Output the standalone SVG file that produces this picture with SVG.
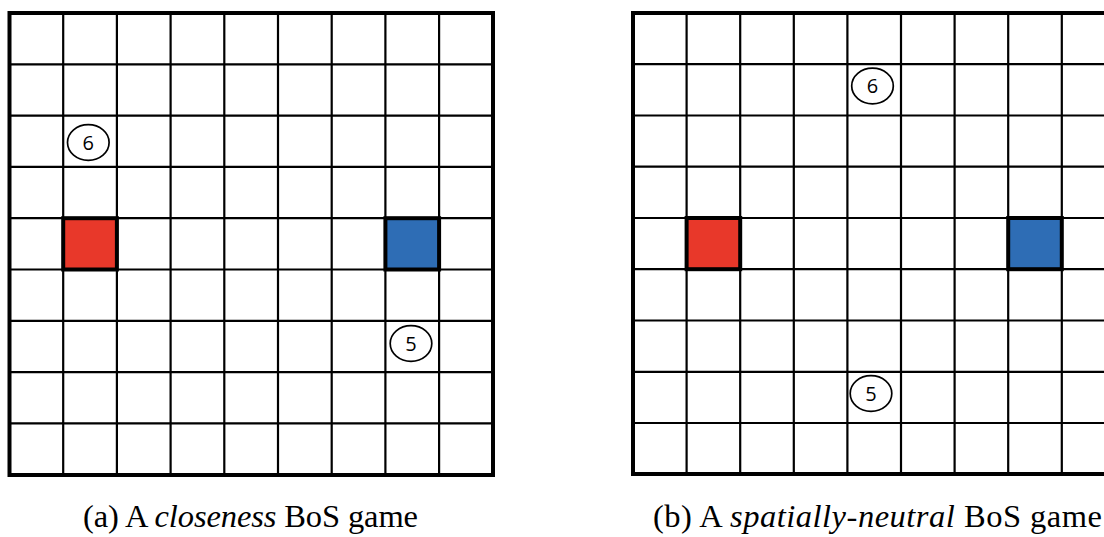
<svg xmlns="http://www.w3.org/2000/svg" width="1104" height="537" viewBox="0 0 1104 537">
<style>
.in{stroke:#000;stroke-width:2.2;fill:none}
.out{stroke:#000;stroke-width:4;fill:none}
.sq{stroke:#000;stroke-width:4}
.red{fill:#E8382A}
.blue{fill:#2E6DB5}
.tok{fill:#fff;stroke:#000;stroke-width:1.7}
.num{font-family:"Open Sans","Liberation Sans",sans-serif;font-size:20px;fill:#000;text-anchor:middle}
.cap{font-family:"Liberation Serif","Times New Roman",serif;font-size:32.5px;fill:#000}
</style>
<rect width="1104" height="537" fill="#fff"/>
<g id="grid-a">
<path class="in" d="M63.2 13V475M116.9 13V475M170.6 13V475M224.3 13V475M278 13V475M331.7 13V475M385.4 13V475M439.1 13V475M9.5 64.3H493M9.5 115.6H493M9.5 166.9H493M9.5 218.2H493M9.5 269.5H493M9.5 320.8H493M9.5 372.1H493M9.5 423.4H493"/>
<rect class="out" x="9.5" y="13" width="483.5" height="462"/>
</g>
<g id="grid-b">
<path class="in" d="M686.6 13V474M740.2 13V474M793.8 13V474M847.4 13V474M901 13V474M954.6 13V474M1008.2 13V474M1061.8 13V474M633 64.2H1116M633 115.5H1116M633 166.7H1116M633 218H1116M633 269.2H1116M633 320.5H1116M633 371.8H1116M633 423H1116"/>
<rect class="out" x="633" y="13" width="482.4" height="461"/>
</g>
<g id="a-red"><rect class="sq red" x="63.2" y="218.2" width="53.7" height="51.3"/></g>
<g id="a-blue"><rect class="sq blue" x="385.4" y="218.2" width="53.7" height="51.3"/></g>
<g id="a-six"><ellipse class="tok" cx="88.3" cy="142.5" rx="20.8" ry="17.8"/><text class="num" x="88.3" y="149.7">6</text></g>
<g id="a-five"><ellipse class="tok" cx="411" cy="343.5" rx="20.8" ry="17.8"/><text class="num" x="411" y="350.7">5</text></g>
<g id="b-red"><rect class="sq red" x="686.6" y="218" width="53.6" height="51.2"/></g>
<g id="b-blue"><rect class="sq blue" x="1008.2" y="218" width="53.6" height="51.2"/></g>
<g id="b-six"><ellipse class="tok" cx="872.5" cy="86" rx="20.8" ry="17.8"/><text class="num" x="872.5" y="93.2">6</text></g>
<g id="b-five"><ellipse class="tok" cx="871" cy="393.5" rx="20.8" ry="17.8"/><text class="num" x="871" y="400.7">5</text></g>
<g id="connectors"></g>
<text class="cap" x="83" y="527" textLength="335" lengthAdjust="spacing">(a) A <tspan font-style="italic">closeness</tspan> BoS game</text>
<text class="cap" x="653" y="527" textLength="449" lengthAdjust="spacing">(b) A <tspan font-style="italic">spatially-neutral</tspan> BoS game</text>
</svg>
